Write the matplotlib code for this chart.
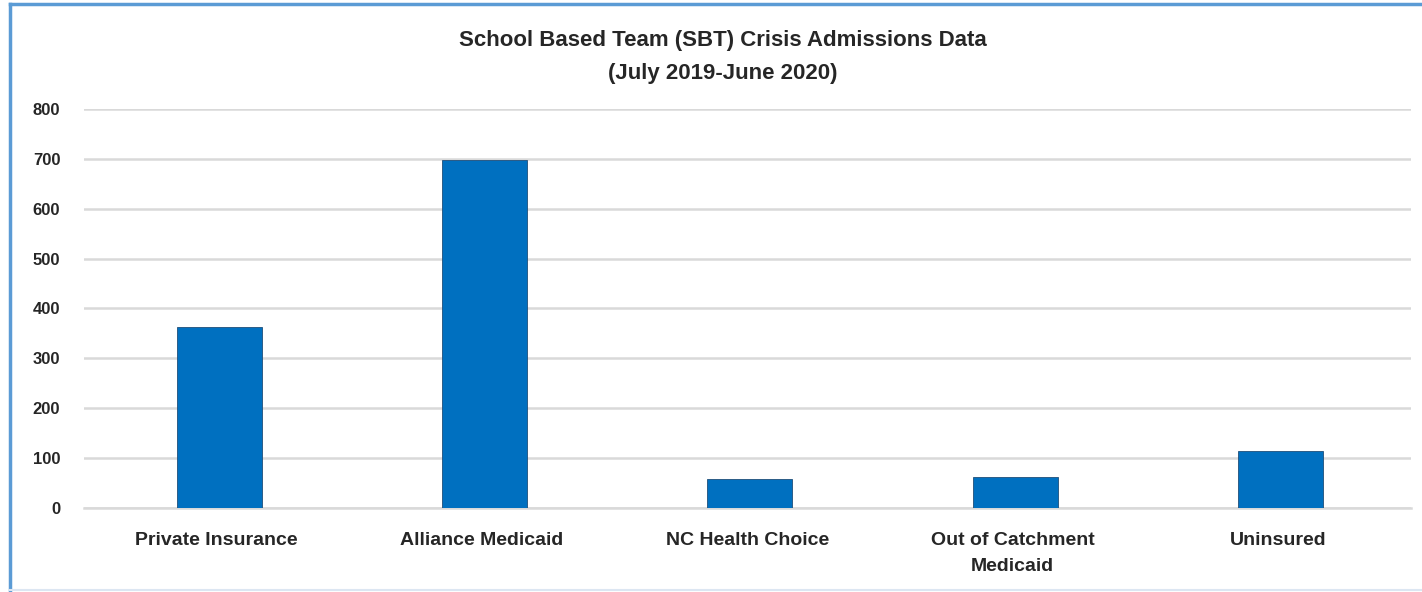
import numpy as np
from matplotlib import pyplot as plt
from matplotlib.lines import Line2D

categories = ["Private Insurance", "Alliance Medicaid", "NC Health Choice",
              "Out of Catchment\nMedicaid", "Uninsured"]
admissions = [363, 697, 58, 63, 115]
y_ticks = [0, 100, 200, 300, 400, 500, 600, 700, 800]

plt.rcParams['font.family'] = ['Liberation Sans', 'DejaVu Sans']

fig = plt.figure(figsize=(14.22, 5.92), dpi=100)
ax = fig.add_axes([0.059, 0.142, 0.933, 0.674])

x = np.arange(len(categories))
ax.bar(x + 0.01, admissions, width=0.32, color="#0070C0", edgecolor="#1F4E79",
       linewidth=0.6, zorder=3)

ax.set_xlim(-0.5, len(categories) - 0.5)
ax.set_ylim(0, 800)
ax.set_yticks(y_ticks)
ax.set_xticks(x)
ax.set_xticklabels(categories, fontsize=14, fontweight="bold", color="#262626",
                   linespacing=1.75)
ax.set_yticklabels([str(t) for t in y_ticks], fontsize=12, fontweight="bold",
                   color="#262626")
ax.tick_params(axis="both", length=0)
ax.tick_params(axis="y", pad=17)
ax.tick_params(axis="x", pad=17)
ax.grid(axis="y", color="#D9D9D9", linewidth=1.8, zorder=0)
for side in ["top", "right", "left"]:
	ax.spines[side].set_visible(False)
ax.spines["bottom"].set_color("#D9D9D9")
ax.spines["bottom"].set_linewidth(1.8)

fig.text(0.508, 0.932, "School Based Team (SBT) Crisis Admissions Data",
         ha="center", va="center", fontsize=16, fontweight="bold", color="#262626")
fig.text(0.508, 0.876, "(July 2019-June 2020)",
         ha="center", va="center", fontsize=16, fontweight="bold", color="#262626")

# chart frame, only top and left edges show in the crop
fig.add_artist(Line2D([10 / 1422, 10 / 1422], [0, 1 - 4 / 592],
                      transform=fig.transFigure, color="#5B9BD5", linewidth=2.5))
fig.add_artist(Line2D([10 / 1422, 1], [1 - 4 / 592, 1 - 4 / 592],
                      transform=fig.transFigure, color="#5B9BD5", linewidth=2.5))
fig.add_artist(Line2D([10 / 1422, 1], [2 / 592, 2 / 592],
                      transform=fig.transFigure, color="#DCE6F2", linewidth=1.5))

fig.savefig("out.png", dpi=100)
